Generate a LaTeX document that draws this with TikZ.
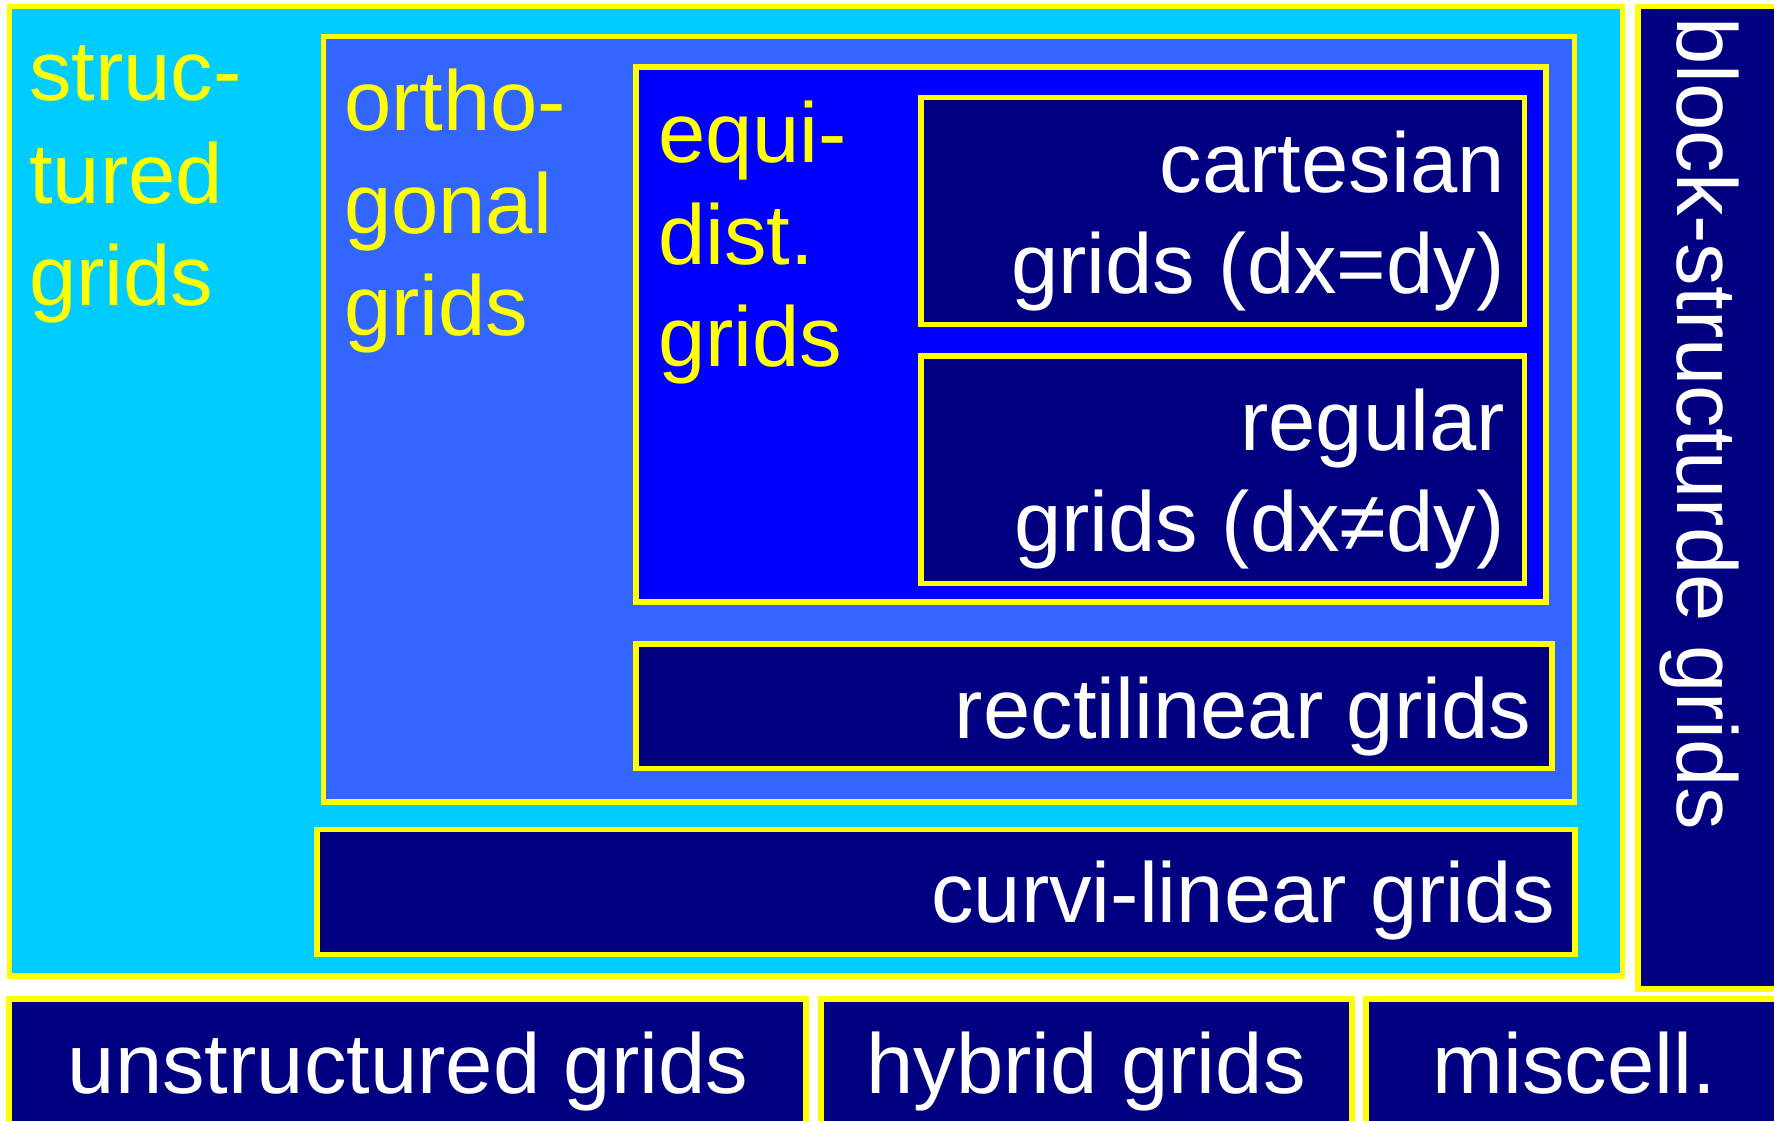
\documentclass[tikz,border=0pt]{standalone}
\usepackage{fontspec}
\setmainfont{Liberation Sans}
\definecolor{structc}{HTML}{00CCFF}
\definecolor{orthoc}{HTML}{3366FF}
\definecolor{equic}{HTML}{0000FF}
\definecolor{navyc}{HTML}{000080}
\definecolor{yelc}{HTML}{FFFF00}
\tikzset{
  gbox/.style={draw=yelc, line width=5.5pt, rectangle, inner sep=0pt, outer sep=0pt},
  ylab/.style={text=yelc, inner sep=0pt, font=\fontsize{85pt}{102pt}\selectfont},
  wlab/.style={text=white, inner sep=0pt, font=\fontsize{85pt}{102pt}\selectfont},
}
\begin{document}
\begin{tikzpicture}[x=1pt, y=-1pt]
\useasboundingbox (0,0) rectangle (1774,1121);
\clip (0,0) rectangle (1774,1121);
\fill[white] (0,0) rectangle (1774,1121);
% boxes
\node[gbox, fill=structc, minimum width=1613pt, minimum height=969.5pt] (structured) at (816,491.25) {};
\node[gbox, fill=navyc, minimum width=172pt, minimum height=982.5pt] (block) at (1724,497.75) {};
\node[gbox, fill=orthoc, minimum width=1251pt, minimum height=765.5pt] (ortho) at (949,419.25) {};
\node[gbox, fill=equic, minimum width=910pt, minimum height=535pt] (equi) at (1091,334.5) {};
\node[gbox, fill=navyc, minimum width=603.5pt, minimum height=227pt] (cart) at (1222.75,211) {};
\node[gbox, fill=navyc, minimum width=603.5pt, minimum height=227.5pt] (regular) at (1222.75,469.75) {};
\node[gbox, fill=navyc, minimum width=916pt, minimum height=124.5pt] (recti) at (1094,706.25) {};
\node[gbox, fill=navyc, minimum width=1258pt, minimum height=125pt] (curvi) at (946,892) {};
\node[gbox, fill=navyc, minimum width=797pt, minimum height=141pt] (unstr) at (407.5,1069.5) {};
\node[gbox, fill=navyc, minimum width=531pt, minimum height=141pt] (hybrid) at (1086.5,1069.5) {};
\node[gbox, fill=navyc, minimum width=444pt, minimum height=141pt] (misc) at (1588,1069.5) {};
% labels
\node[ylab, anchor=base west] (s1) at (29,101) {struc-};
\node[ylab, anchor=base west] (s2) at (29,203) {tured};
\node[ylab, anchor=base west] (s3) at (29,305) {grids};
\node[ylab, anchor=base west] (o1) at (344,131) {ortho-};
\node[ylab, anchor=base west] (o2) at (344,233) {gonal};
\node[ylab, anchor=base west] (o3) at (344,335) {grids};
\node[ylab, anchor=base west] (e1) at (658,162) {equi-};
\node[ylab, anchor=base west] (e2) at (658,264) {dist.};
\node[ylab, anchor=base west] (e3) at (658,366) {grids};
\node[wlab, anchor=base east] (c1) at (1505,192) {cartesian};
\node[wlab, anchor=base east] (c2) at (1505,293) {grids (dx=dy)};
\node[wlab, anchor=base east] (r1) at (1505,450.5) {regular};
\node[wlab, anchor=base east] (r2) at (1505,551.5) {grids (dx≠dy)};
\node[wlab, anchor=base east] (rl) at (1531.5,738) {rectilinear grids};
\node[wlab, anchor=base east] (cl) at (1555,922) {curvi-linear grids};
\node[wlab, anchor=base] (ul) at (408,1093) {unstructured grids};
\node[wlab, anchor=base] (hl) at (1086,1093) {hybrid grids};
\node[wlab, anchor=base] (ml) at (1574,1093) {miscell.};
\node[wlab, anchor=base west, rotate=-90] (bl) at (1677,17) {block-structurde grids};
\end{tikzpicture}
\end{document}
